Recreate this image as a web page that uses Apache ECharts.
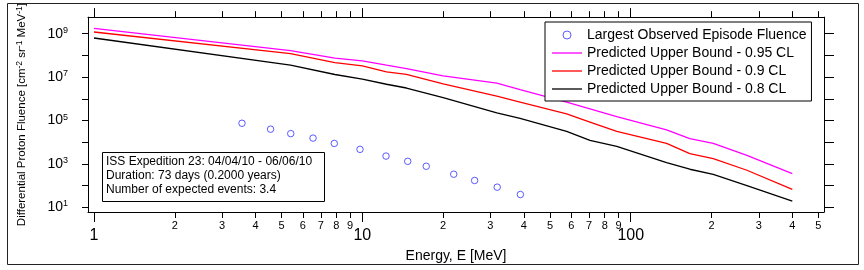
<!DOCTYPE html>
<html><head><meta charset="utf-8">
<script src="https://cdn.jsdelivr.net/npm/echarts@6/dist/echarts.min.js"></script>
<style>html,body{margin:0;padding:0;background:#fff}#c{width:864px;height:270px}</style>
</head><body><div id="c"></div>
<script>
const obsEnergy = [3.56, 4.55, 5.41, 6.55, 7.86, 9.8, 12.25, 14.76, 17.3, 21.9, 26.2, 31.8, 38.8];
const obsFluence = [7.5e4, 4.0e4, 2.5e4, 1.55e4, 8.8e3, 4.7e3, 2.3e3, 1.32e3, 780, 336, 173, 85, 39];
const lineEnergy = [1, 5.4, 7.9, 10, 12.3, 14.6, 20, 31.7, 38.7, 57.7, 70.5, 88.7, 136, 166, 203, 271, 400];
const cl95 = [1.77e9, 1.67e8, 7.46e7, 5.6e7, 3.56e7, 2.49e7, 1.15e7, 5.34e6, 2.66e6, 7.04e5, 3.47e5, 1.52e5, 3.75e4, 1.45e4, 8.8e3, 2.49e3, 361];
const cl90 = [1.2e9, 1.21e8, 4.69e7, 3.31e7, 1.76e7, 1.35e7, 4.85e6, 1.33e6, 7.04e5, 2.03e5, 8.5e4, 3.13e4, 8.8e3, 2.98e3, 1.76e3, 512, 66.8];
const cl80 = [6.35e8, 3.56e7, 1.32e7, 8.15e6, 4.7e6, 3.15e6, 1.13e6, 2.25e5, 1.27e5, 3.13e4, 1.21e4, 6.44e3, 1.15e3, 569, 329, 101, 19.5];
const xMajorTicks = [1, 10, 100];
const xMinorTicks = [2, 3, 4, 5, 6, 7, 8, 9, 20, 30, 40, 50, 60, 70, 80, 90, 200, 300, 400, 500];
const yTicks = [10, 100, 1e3, 1e4, 1e5, 1e6, 1e7, 1e8, 1e9];
const yLabels = [10, 1e3, 1e5, 1e7, 1e9];
const seriesNames = ['Largest Observed Episode Fluence', 'Predicted Upper Bound - 0.95 CL', 'Predicted Upper Bound - 0.9 CL', 'Predicted Upper Bound - 0.8 CL'];
const noteLines = ['ISS Expedition 23: 04/04/10 - 06/06/10', 'Duration: 73 days (0.2000 years)', 'Number of expected events: 3.4'];

const FONT = 'Liberation Sans';
const chart = echarts.init(document.getElementById('c'), null, {renderer: 'canvas'});
const xBase = {type: 'log', logBase: 10, min: 0.95, max: 525, gridIndex: 0, splitLine: {show: false}, minorTick: {show: false}};
const lineBlack = {color: '#000', width: 1};
const pairs = (xs, ys) => xs.map((x, i) => [x, ys[i]]);
const lineIcon = 'path://M0,0L30,0L30,1.3L0,1.3Z';

chart.setOption({
  animation: false,
  backgroundColor: '#fff',
  textStyle: {fontFamily: FONT},
  grid: {left: 88, top: 16, width: 736, height: 196, containLabel: false},
  legend: {
    orient: 'vertical', left: 545, top: 22, padding: [5, 5, 4, 7],
    itemWidth: 30, itemHeight: 8, itemGap: 2, selectedMode: false,
    backgroundColor: '#fff', borderColor: '#000', borderWidth: 1,
    textStyle: {fontSize: 14, lineHeight: 16, color: '#000', fontFamily: FONT},
    data: [
      {name: seriesNames[0], icon: 'circle', itemStyle: {color: 'rgba(255,255,255,0)', borderColor: '#3333ff', borderWidth: 1}},
      {name: seriesNames[1], icon: lineIcon},
      {name: seriesNames[2], icon: lineIcon},
      {name: seriesNames[3], icon: lineIcon}
    ]
  },
  xAxis: [
    Object.assign({}, xBase, {
      position: 'bottom',
      axisLine: {show: true, onZero: false, lineStyle: lineBlack},
      axisTick: {show: true, customValues: xMajorTicks, length: 10, lineStyle: lineBlack},
      axisLabel: {show: true, customValues: xMajorTicks, fontSize: 16, margin: 16, color: '#000', fontFamily: FONT, formatter: v => String(v)},
      name: 'Energy, E [MeV]', nameLocation: 'middle', nameGap: 36,
      nameTextStyle: {fontSize: 14, color: '#000', fontFamily: FONT}
    }),
    Object.assign({}, xBase, {
      position: 'bottom',
      axisLine: {show: false, onZero: false},
      axisTick: {show: true, customValues: xMinorTicks, length: 6, lineStyle: lineBlack},
      axisLabel: {show: true, customValues: xMinorTicks, fontSize: 11, margin: 8, color: '#000', fontFamily: FONT, formatter: v => String(Math.round(v / Math.pow(10, Math.floor(Math.log10(v) + 1e-9))))}
    }),
    Object.assign({}, xBase, {
      position: 'top',
      axisLine: {show: true, onZero: false, lineStyle: lineBlack},
      axisTick: {show: true, customValues: xMajorTicks, length: 9, lineStyle: lineBlack},
      axisLabel: {show: false}
    }),
    Object.assign({}, xBase, {
      position: 'top',
      axisLine: {show: false, onZero: false},
      axisTick: {show: true, customValues: xMinorTicks, length: 6, lineStyle: lineBlack},
      axisLabel: {show: false}
    })
  ],
  yAxis: [
    {
      type: 'log', logBase: 10, min: 6.1, max: 5.8e9, position: 'left', gridIndex: 0,
      splitLine: {show: false},
      axisLine: {show: true, onZero: false, lineStyle: lineBlack},
      axisTick: {show: true, customValues: yTicks, length: 6, lineStyle: lineBlack},
      axisLabel: {
        show: true, customValues: yLabels, margin: 20, color: '#000',
        formatter: v => '{b|10}{s|' + Math.round(Math.log10(v)) + '}',
        rich: {b: {fontSize: 14, lineHeight: 16, fontFamily: FONT, color: '#000'}, s: {fontSize: 9, lineHeight: 9, verticalAlign: 'top', fontFamily: FONT, color: '#000'}}
      },
      name: 'Differential Proton Fluence [cm{s|-2} sr{s|-1} MeV{s|-1}]',
      nameLocation: 'middle', nameGap: 60, nameRotate: 90,
      nameTextStyle: {
        fontSize: 11.5, lineHeight: 13, color: '#000', fontFamily: FONT,
        rich: {s: {fontSize: 8.5, lineHeight: 8, verticalAlign: 'top', color: '#000', fontFamily: FONT}}
      }
    },
    {
      type: 'log', logBase: 10, min: 6.1, max: 5.8e9, position: 'right', gridIndex: 0,
      splitLine: {show: false},
      axisLine: {show: true, onZero: false, lineStyle: lineBlack},
      axisTick: {show: true, customValues: yTicks, length: 10, lineStyle: lineBlack},
      axisLabel: {show: false}
    }
  ],
  graphic: [
    {type: 'rect', silent: true, shape: {x: 7.5, y: 3.5, width: 851, height: 261}, style: {fill: 'none', stroke: '#222', lineWidth: 1}},
    {type: 'group', left: 102, top: 152, silent: true, children: [
      {type: 'rect', shape: {x: 0.5, y: 0.5, width: 222, height: 49}, style: {fill: '#fff', stroke: '#000', lineWidth: 1}},
      {type: 'text', x: 4, y: 3, style: {text: noteLines.join('\n'), font: '12px "Liberation Sans"', lineHeight: 14, fill: '#000'}}
    ]}
  ],
  series: [
    {type: 'scatter', name: seriesNames[0], xAxisIndex: 0, yAxisIndex: 0, data: pairs(obsEnergy, obsFluence),
      symbol: 'circle', symbolSize: 6.5, itemStyle: {color: 'rgba(255,255,255,0)', borderColor: '#3333ff', borderWidth: 1}, z: 3},
    {type: 'line', name: seriesNames[1], xAxisIndex: 0, yAxisIndex: 0, data: pairs(lineEnergy, cl95), symbol: 'none', showSymbol: false,
      lineStyle: {color: '#ff00ff', width: 1.3}, itemStyle: {color: '#ff00ff'}},
    {type: 'line', name: seriesNames[2], xAxisIndex: 0, yAxisIndex: 0, data: pairs(lineEnergy, cl90), symbol: 'none', showSymbol: false,
      lineStyle: {color: '#ff0000', width: 1.3}, itemStyle: {color: '#ff0000'}},
    {type: 'line', name: seriesNames[3], xAxisIndex: 0, yAxisIndex: 0, data: pairs(lineEnergy, cl80), symbol: 'none', showSymbol: false,
      lineStyle: {color: '#000000', width: 1.3}, itemStyle: {color: '#000000'}}
  ]
});
</script></body></html>
